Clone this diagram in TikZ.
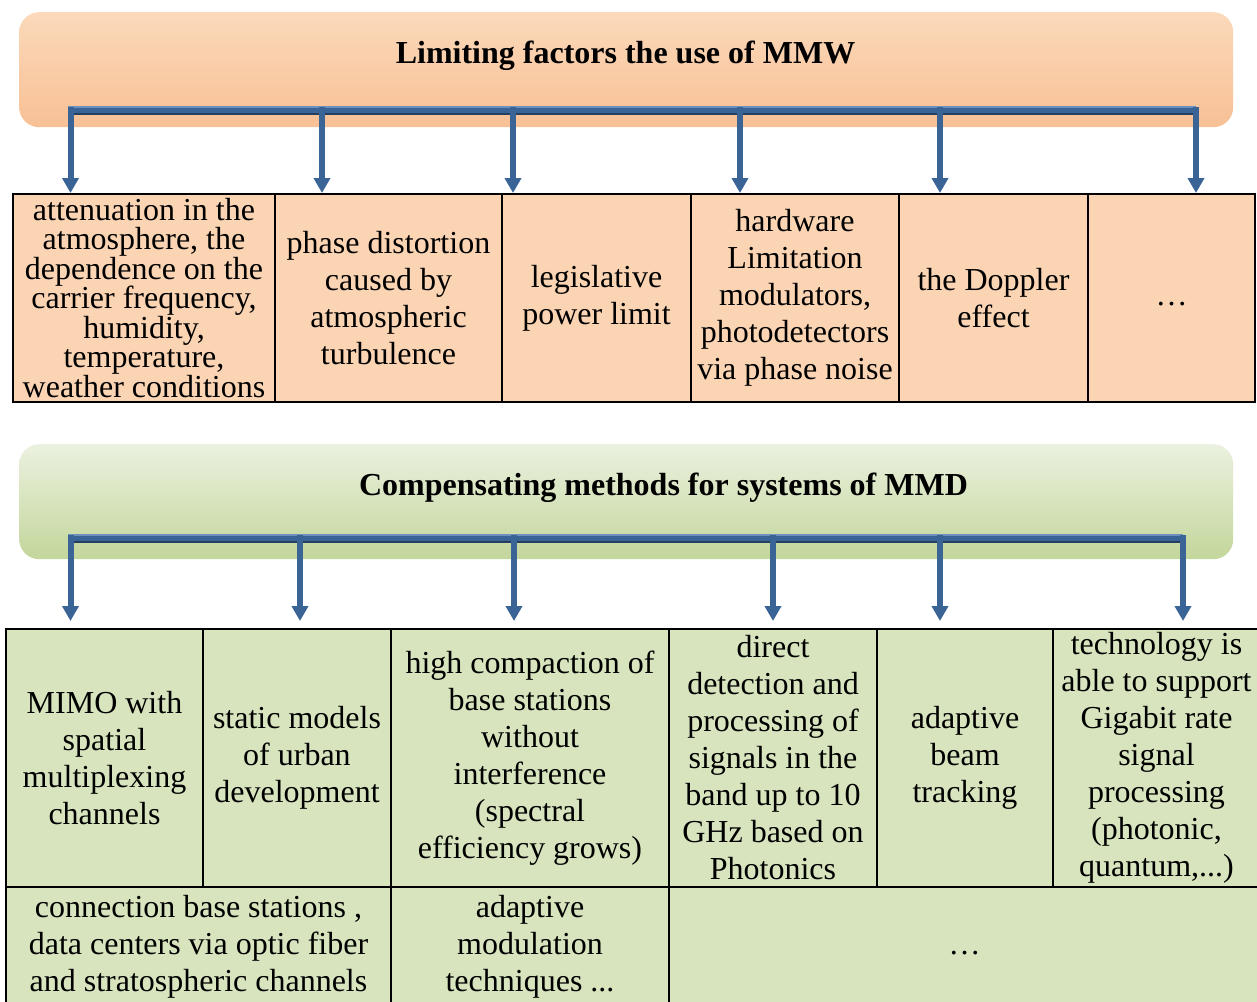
\documentclass[tikz,border=0pt]{standalone}
\usepackage{fontspec}
\setmainfont{Liberation Serif}
\usetikzlibrary{arrows.meta}
\definecolor{peach}{HTML}{FBD4B4}
\definecolor{greencell}{HTML}{D7E4BD}
\definecolor{hOneTop}{HTML}{FBD9BA}
\definecolor{hOneBot}{HTML}{F8C095}
\definecolor{hTwoTop}{HTML}{EBF1DF}
\definecolor{hTwoBot}{HTML}{C3D69B}
\definecolor{barblue}{HTML}{3A6396}
\definecolor{barlight}{HTML}{6F90BC}
\definecolor{bardark}{HTML}{243F60}
\tikzset{
  cell/.style={draw=black, line width=2pt, inner sep=0pt, align=center, anchor=north west,
    font=\fontsize{32}{37}\selectfont},
  pcell/.style={cell, fill=peach},
  gcell/.style={cell, fill=greencell},
  header/.style={rounded corners=20pt, inner sep=0pt, anchor=north west, draw=none},
  title/.style={font=\bfseries\fontsize{32}{37}\selectfont, anchor=base, inner sep=0pt},
  arr/.style={draw=barblue, line width=6pt, -{Triangle[width=16pt,length=15pt]}},
  barmain/.style={draw=barblue, line width=7pt},
  barhi/.style={draw=barlight, line width=2pt},
  barlo/.style={draw=bardark, line width=2pt},
}
\begin{document}
\begin{tikzpicture}[x=1pt,y=-1pt]
\useasboundingbox (0,0) rectangle (1257,1001);
% ---------- top header ----------
\node[header, top color=hOneTop, bottom color=hOneBot, minimum width=1214pt, minimum height=115pt] (h1) at (19,12) {};
\node[title] (t1) at (625.5,63) {Limiting factors the use of MMW};
% ---------- top table ----------
\node[pcell, minimum width=262pt, minimum height=208pt, font=\fontsize{32}{29.5}\selectfont] (c1) at (12,193)
  {attenuation in the\\atmosphere, the\\dependence on the\\carrier frequency,\\humidity,\\temperature,\\weather conditions};
\node[pcell, minimum width=227pt, minimum height=208pt] (c2) at (274,193) {phase distortion\\caused by\\atmospheric\\turbulence};
\node[pcell, minimum width=189pt, minimum height=208pt] (c3) at (501,193) {legislative\\power limit};
\node[pcell, minimum width=208pt, minimum height=208pt] (c4) at (690,193) {hardware\\Limitation\\modulators,\\photodetectors\\via phase noise};
\node[pcell, minimum width=189pt, minimum height=208pt] (c5) at (898,193) {the Doppler\\effect};
\node[pcell, minimum width=167pt, minimum height=208pt] (c6) at (1087,193) {\strut…};
% ---------- top bar and arrows ----------
\coordinate (b1s) at (68,110);
\coordinate (b1e) at (1199,110);
\draw[barmain] (b1s) -- (b1e);
\draw[barhi] (68,107) -- (1196,107);
\draw[barlo] (73,113.5) -- (1199,113.5);
\foreach \x/\n in {70.5/c1,322/c2,513/c3,740/c4,940/c5,1196/c6}{
  \coordinate (a) at (\x,107);
  \draw[arr] (a) -- (a |- \n.north);
}
% ---------- bottom header ----------
\node[header, top color=hTwoTop, bottom color=hTwoBot, minimum width=1214pt, minimum height=115pt] (h2) at (19,444) {};
\node[title] (t2) at (663.5,495) {Compensating methods for systems of MMD};
% ---------- bottom table ----------
\node[gcell, minimum width=197pt, minimum height=258pt] (d1) at (5,628) {MIMO with\\spatial\\multiplexing\\channels};
\node[gcell, minimum width=188pt, minimum height=258pt] (d2) at (202,628) {static models\\of urban\\development};
\node[gcell, minimum width=278pt, minimum height=258pt] (d3) at (390,628) {high compaction of\\base stations\\without\\interference\\(spectral\\efficiency grows)};
\node[gcell, minimum width=208pt, minimum height=258pt] (d4) at (668,628) {direct\\detection and\\processing of\\signals in the\\band up to 10\\GHz based on\\Photonics};
\node[gcell, minimum width=176pt, minimum height=258pt] (d5) at (876,628) {adaptive\\beam\\tracking};
\node[gcell, minimum width=207pt, minimum height=258pt] (d6) at (1052,628) {technology is\\able to support\\Gigabit rate\\signal\\processing\\(photonic,\\quantum,...)};
\node[gcell, minimum width=385pt, minimum height=120pt] (e1) at (5,886) {connection base stations ,\\data centers via optic fiber\\and stratospheric channels};
\node[gcell, minimum width=278pt, minimum height=120pt] (e2) at (390,886) {adaptive\\modulation\\techniques ...};
\node[gcell, minimum width=591pt, minimum height=120pt] (e3) at (668,886) {\strut…};
% ---------- bottom bar and arrows ----------
\coordinate (b2s) at (68,538);
\coordinate (b2e) at (1186,538);
\draw[barmain] (b2s) -- (b2e);
\draw[barhi] (68,535) -- (1183,535);
\draw[barlo] (73,541.5) -- (1186,541.5);
\foreach \x/\n in {70.5/d1,300/d2,514/d3,773/d4,940/d5,1183/d6}{
  \coordinate (a) at (\x,535);
  \draw[arr] (a) -- ([yshift=7pt]a |- \n.north);
}
\end{tikzpicture}
\end{document}
